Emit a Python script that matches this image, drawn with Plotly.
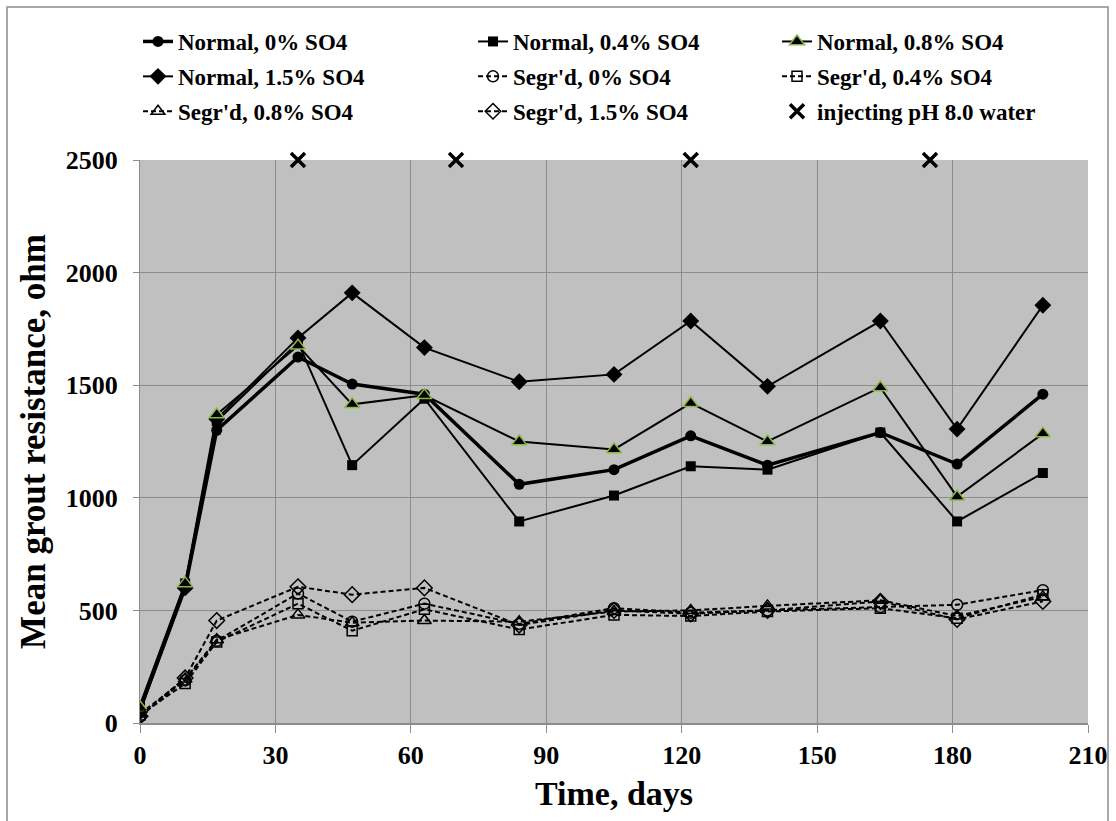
import plotly.graph_objects as go

# Sampling days
days = [0, 10, 17, 35, 47, 63, 84, 105, 122, 139, 164, 181, 200]

# Mean grout resistance (ohm), normal grout
normal_0 = [60, 600, 1300, 1625, 1505, 1460, 1060, 1125, 1275, 1145, 1290, 1150, 1460]
normal_04 = [80, 620, 1340, 1690, 1145, 1440, 895, 1010, 1140, 1125, 1290, 895, 1110]
normal_08 = [70, 620, 1370, 1675, 1415, 1455, 1250, 1215, 1420, 1250, 1490, 1005, 1285]
normal_15 = [50, 600, 1350, 1710, 1910, 1667, 1515, 1548, 1785, 1495, 1785, 1305, 1855]

# Mean grout resistance (ohm), segregated grout
segr_0 = [30, 190, 365, 575, 450, 530, 440, 510, 490, 500, 515, 525, 590]
segr_04 = [35, 175, 360, 530, 410, 505, 415, 480, 475, 495, 510, 465, 570]
segr_08 = [40, 195, 370, 480, 445, 455, 450, 495, 500, 520, 545, 475, 560]
segr_15 = [30, 200, 455, 605, 570, 600, 435, 500, 485, 500, 540, 460, 540]

# Days on which pH 8.0 water was injected
inject_days = [35, 70, 122, 175]
inject_level = [2500, 2500, 2500, 2500]

FONT = "Liberation Serif"
GREEN = "#8DB548"
DASH = "5px,3px"

W, H = 1116, 821
ML, MR, MT, MB = 140, 28, 160, 98
PW = W - ML - MR
PH = H - MT - MB

fig = go.Figure()

def add(name, y, symbol, size, width, dash=None, mline="black", mwidth=0, legend="legend"):
    fig.add_trace(go.Scatter(
        x=days, y=y, name=name, mode="lines+markers",
        line=dict(color="black", width=width, dash=dash),
        marker=dict(symbol=symbol, size=size, color="black",
                    line=dict(color=mline, width=mwidth)),
        legend=legend, legendgroup=name,
    ))

# column 1 of the legend
add("Normal, 0% SO4", normal_0, "circle", 11, 3.5)
add("Normal, 1.5% SO4", normal_15, "diamond", 13, 2)
add("Segr'd, 0.8% SO4", segr_08, "triangle-up-open", 12, 2, DASH, "black", 1.5)
# column 2
add("Normal, 0.4% SO4", normal_04, "square", 10, 2, legend="legend2")
add("Segr'd, 0% SO4", segr_0, "circle-open", 11, 2, DASH, "black", 1.5, legend="legend2")
add("Segr'd, 1.5% SO4", segr_15, "diamond-open", 12, 2, DASH, "black", 1.5, legend="legend2")
# column 3
add("Normal, 0.8% SO4", normal_08, "triangle-up", 13, 2, mline=GREEN, mwidth=1.5, legend="legend3")
add("Segr'd, 0.4% SO4", segr_04, "square-open", 10, 2, DASH, "black", 1.5, legend="legend3")
fig.add_trace(go.Scatter(
    x=inject_days, y=inject_level, name="injecting pH 8.0 water", mode="markers",
    marker=dict(symbol="x-thin", size=14, color="black", line=dict(color="black", width=3.5)),
    cliponaxis=False, legend="legend3", legendgroup="inject",
))

legend_font = dict(family=FONT, size=23, color="black", weight="bold")
def legend_at(px):
    return dict(x=(px - ML) / PW, y=1 - 20 / H, xref="paper", yref="container",
                xanchor="left", yanchor="top", orientation="v",
                font=legend_font, bgcolor="rgba(0,0,0,0)", borderwidth=0,
                traceorder="grouped", tracegroupgap=2, itemwidth=30)

fig.update_layout(
    width=W, height=H,
    margin=dict(l=ML, r=MR, t=MT, b=MB, autoexpand=False),
    paper_bgcolor="white", plot_bgcolor="#C0C0C0",
    font=dict(family=FONT, color="black"),
    legend=legend_at(138),
    legend2=legend_at(473),
    legend3=legend_at(777),
    xaxis=dict(
        range=[0, 210], tickvals=[0, 30, 60, 90, 120, 150, 180, 210],
        showgrid=True, gridcolor="#8C8C8C", gridwidth=1,
        showline=True, linecolor="#8C8C8C", linewidth=2,
        ticks="outside", ticklen=8, tickcolor="#8C8C8C", ticklabelstandoff=0,
        tickfont=dict(family=FONT, size=26, color="black", weight="bold"),
        title=dict(text="<b>Time, days</b>", font=dict(family=FONT, size=34), standoff=12),
        zeroline=False,
    ),
    yaxis=dict(
        range=[0, 2500], tickvals=[0, 500, 1000, 1500, 2000, 2500],
        showgrid=True, gridcolor="#8C8C8C", gridwidth=1,
        showline=True, linecolor="#8C8C8C", linewidth=1,
        ticks="outside", ticklen=6, tickcolor="#8C8C8C", ticklabelstandoff=10,
        tickfont=dict(family=FONT, size=26, color="black", weight="bold"),
        title=dict(text="<b>Mean grout resistance, ohm</b>", font=dict(family=FONT, size=35), standoff=9),
        zeroline=False,
    ),
    showlegend=True,
)

# Outer chart border
fig.add_shape(type="rect", xref="paper", yref="paper",
              x0=(7 - ML) / PW, x1=(1108 - ML) / PW,
              y0=-(840 - (H - MB)) / PH, y1=1 + (MT - 7) / PH,
              line=dict(color="#8C8C8C", width=1.5), fillcolor="rgba(0,0,0,0)", layer="below")

fig.write_html("out.html")
